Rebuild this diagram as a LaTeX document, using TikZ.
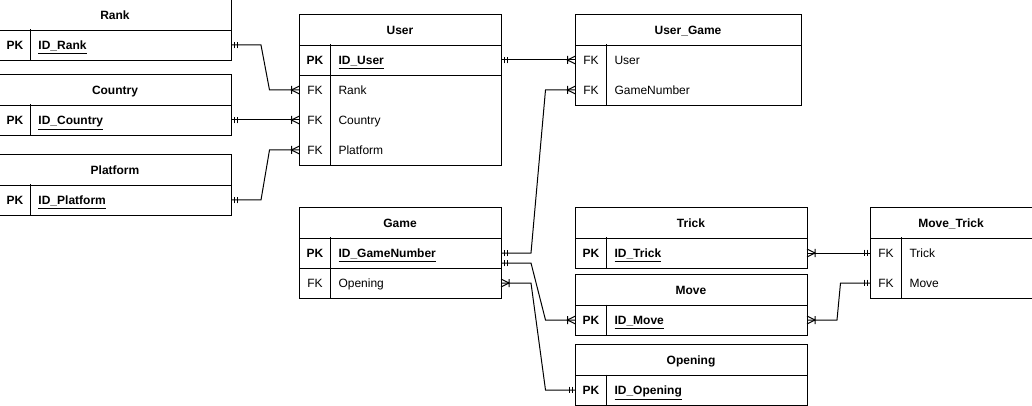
\documentclass[tikz,border=0pt]{standalone}
\usepackage{fontspec}
\setmainfont{Liberation Sans}
\usetikzlibrary{decorations.markings}

\tikzset{
  every node/.style={font=\fontsize{9}{10.8}\selectfont},
  tabtitle/.style={minimum width=#1, minimum height=22.5pt, inner sep=0pt, text height=8pt, text depth=1pt, font=\fontsize{9}{10.8}\selectfont\bfseries},
  keycell/.style={minimum width=22.5pt, minimum height=22.5pt, inner sep=0pt, text height=8pt, text depth=1pt},
  fieldcell/.style={anchor=west, minimum height=22.5pt, inner xsep=6pt, inner ysep=0pt, text height=8pt, text depth=1pt, text width=#1, align=left},
  pkrow/.style={font=\fontsize{9}{10.8}\selectfont\bfseries},
  % one (start) to many (end)
  rel/.style={postaction={decorate, decoration={markings,
      mark=at position 2.25pt with {\draw[line width=0.75pt] (0,-2.6pt) -- (0,2.6pt);},
      mark=at position 4.5pt with {\draw[line width=0.75pt] (0,-2.6pt) -- (0,2.6pt);},
      mark=at position -6pt with {\draw[line width=0.75pt] (6pt,-3pt) -- (0,0) -- (6pt,3pt) (0,-3pt) -- (0,3pt);}}}}
}

\begin{document}
\begin{tikzpicture}[x=0.75pt, y=-0.75pt, line width=0.75pt]
\useasboundingbox (0,0) rectangle (1032,406);

% Rank
\node[tabtitle=172.5pt] (rank) at (115,15) {Rank};
\node[keycell, pkrow] (rankpk) at (15,45) {PK};
\node[fieldcell=138pt, pkrow] (rankid) at (30,45) {\underline{ID\_Rank}};
\draw (rank.north west) rectangle (rankid.south east);
\draw (rank.south west) -- (rank.south east);
\draw (rankpk.north east) -- (rankpk.south east);

% Country
\node[tabtitle=172.5pt] (country) at (115,90) {Country};
\node[keycell, pkrow] (countrypk) at (15,120) {PK};
\node[fieldcell=138pt, pkrow] (countryid) at (30,120) {\underline{ID\_Country}};
\draw (country.north west) rectangle (countryid.south east);
\draw (country.south west) -- (country.south east);
\draw (countrypk.north east) -- (countrypk.south east);

% Platform
\node[tabtitle=172.5pt] (platform) at (115,170) {Platform};
\node[keycell, pkrow] (platformpk) at (15,200) {PK};
\node[fieldcell=138pt, pkrow] (platformid) at (30,200) {\underline{ID\_Platform}};
\draw (platform.north west) rectangle (platformid.south east);
\draw (platform.south west) -- (platform.south east);
\draw (platformpk.north east) -- (platformpk.south east);

% User
\node[tabtitle=150pt] (user) at (400,30) {User};
\node[keycell, pkrow] (userpk) at (315,60) {PK};
\node[fieldcell=115.5pt, pkrow] (userid) at (330,60) {\underline{ID\_User}};
\node[keycell] (userrankfk) at (315,90) {FK};
\node[fieldcell=115.5pt] (userrank) at (330,90) {Rank};
\node[keycell] (usercountryfk) at (315,120) {FK};
\node[fieldcell=115.5pt] (usercountry) at (330,120) {Country};
\node[keycell] (userplatfk) at (315,150) {FK};
\node[fieldcell=115.5pt] (userplat) at (330,150) {Platform};
\draw (user.north west) rectangle (userplat.south east);
\draw (user.south west) -- (user.south east);
\draw (userpk.south west) -- (userid.south east);
\draw (userpk.north east) -- (userplatfk.south east);

% User_Game
\node[tabtitle=168pt] (usergame) at (688,30) {User\_Game};
\node[keycell] (ugfk1) at (591,60) {FK};
\node[fieldcell=133.5pt] (uguser) at (606,60) {User};
\node[keycell] (ugfk2) at (591,90) {FK};
\node[fieldcell=133.5pt] (uggame) at (606,90) {GameNumber};
\draw (usergame.north west) rectangle (uggame.south east);
\draw (usergame.south west) -- (usergame.south east);
\draw (ugfk1.north east) -- (ugfk2.south east);

% Game
\node[tabtitle=150pt] (game) at (400,223) {Game};
\node[keycell, pkrow] (gamepk) at (315,253) {PK};
\node[fieldcell=115.5pt, pkrow] (gameid) at (330,253) {\underline{ID\_GameNumber}};
\node[keycell] (gamefk) at (315,283) {FK};
\node[fieldcell=115.5pt] (gameopen) at (330,283) {Opening};
\draw (game.north west) rectangle (gameopen.south east);
\draw (game.south west) -- (game.south east);
\draw (gamepk.south west) -- (gameid.south east);
\draw (gamepk.north east) -- (gamefk.south east);

% Trick
\node[tabtitle=172.5pt] (trick) at (691,223) {Trick};
\node[keycell, pkrow] (trickpk) at (591,253) {PK};
\node[fieldcell=138pt, pkrow] (trickid) at (606,253) {\underline{ID\_Trick}};
\draw (trick.north west) rectangle (trickid.south east);
\draw (trick.south west) -- (trick.south east);
\draw (trickpk.north east) -- (trickpk.south east);

% Move
\node[tabtitle=172.5pt] (move) at (691,290) {Move};
\node[keycell, pkrow] (movepk) at (591,320) {PK};
\node[fieldcell=138pt, pkrow] (moveid) at (606,320) {\underline{ID\_Move}};
\draw (move.north west) rectangle (moveid.south east);
\draw (move.south west) -- (move.south east);
\draw (movepk.north east) -- (movepk.south east);

% Opening
\node[tabtitle=172.5pt] (opening) at (691,360) {Opening};
\node[keycell, pkrow] (openpk) at (591,390) {PK};
\node[fieldcell=138pt, pkrow] (openid) at (606,390) {\underline{ID\_Opening}};
\draw (opening.north west) rectangle (openid.south east);
\draw (opening.south west) -- (opening.south east);
\draw (openpk.north east) -- (openpk.south east);

% Move_Trick
\node[tabtitle=120pt] (movetrick) at (951,223) {Move\_Trick};
\node[keycell] (mtfk1) at (886,253) {FK};
\node[fieldcell=85.5pt] (mttrick) at (901,253) {Trick};
\node[keycell] (mtfk2) at (886,283) {FK};
\node[fieldcell=85.5pt] (mtmove) at (901,283) {Move};
\draw (movetrick.north west) rectangle (mtmove.south east);
\draw (movetrick.south west) -- (movetrick.south east);
\draw (mtfk1.north east) -- (mtfk2.south east);

% relations
\draw[rel] (rankid.east) -- ([xshift=22.5pt]rankid.east) -- ([xshift=-22.5pt]userrankfk.west) -- (userrankfk.west);
\draw[rel] (countryid.east) -- (usercountryfk.west);
\draw[rel] (platformid.east) -- ([xshift=22.5pt]platformid.east) -- ([xshift=-22.5pt]userplatfk.west) -- (userplatfk.west);
\draw[rel] (userid.east) -- (ugfk1.west);
\draw[rel] (gameid.east) -- ([xshift=22.5pt]gameid.east) -- ([xshift=-22.5pt]ugfk2.west) -- (ugfk2.west);
\draw[rel] ([yshift=-7.5pt]gameid.east) -- ([xshift=22.5pt, yshift=-7.5pt]gameid.east) -- ([xshift=-22.5pt]movepk.west) -- (movepk.west);
\draw[rel] (openpk.west) -- ([xshift=-22.5pt]openpk.west) -- ([xshift=22.5pt]gameopen.east) -- (gameopen.east);
\draw[rel] (mtfk1.west) -- (trickid.east);
\draw[rel] (mtfk2.west) -- ([xshift=-22.5pt]mtfk2.west) -- ([xshift=22.5pt]moveid.east) -- (moveid.east);
\end{tikzpicture}
\end{document}
